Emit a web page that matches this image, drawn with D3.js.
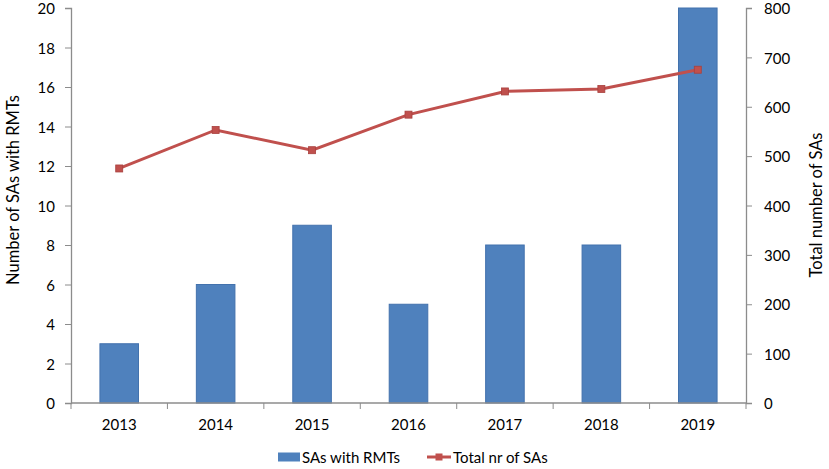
<!DOCTYPE html>
<html><head><meta charset="utf-8">
<script src="https://cdn.jsdelivr.net/npm/d3@7"></script>
<style>body{margin:0;background:#fff}svg{display:block}text{font-family:Lato,"Open Sans",sans-serif;fill:#000}</style>
</head><body>
<svg id="c" width="829" height="469"></svg>
<script>
const years = ["2013","2014","2015","2016","2017","2018","2019"];
const sasWithRMTs = [3, 6, 9, 5, 8, 8, 20];
const totalSAs = [475, 553, 512, 584, 631, 636, 675];
const leftTicks = [0,2,4,6,8,10,12,14,16,18,20];
const rightTicks = [0,100,200,300,400,500,600,700,800];

const svg = d3.select("#c");
const L = 71, R = 746, T = 8, B = 403;
const x = d3.scaleBand().domain(years).range([L, R]).paddingInner(0.6).paddingOuter(0.3);
const xb = d3.scaleBand().domain(years).range([L, R]);
const yL = d3.scaleLinear().domain([0,20]).range([B, T]);
const yR = d3.scaleLinear().domain([0,800]).range([B, T]);
const axisCol = "#8c8c8c";
const FS = 15;

// bars
svg.append("g").selectAll("rect").data(years).join("rect")
  .attr("x", d => x(d)).attr("width", x.bandwidth())
  .attr("y", (d,i) => yL(sasWithRMTs[i])).attr("height", (d,i) => B - yL(sasWithRMTs[i]))
  .attr("fill", "#4f81bd").attr("stroke", "#4372ad").attr("stroke-width", 1);

// axes
const gL = svg.append("g").attr("transform", `translate(${L},0)`)
  .call(d3.axisLeft(yL).tickValues(leftTicks).tickSize(6).tickPadding(10));
const gR = svg.append("g").attr("transform", `translate(${R},0)`)
  .call(d3.axisRight(yR).tickValues(rightTicks).tickSize(6).tickPadding(12));
const gX = svg.append("g").attr("transform", `translate(0,${B})`)
  .call(d3.axisBottom(xb).tickSize(0).tickPadding(16));
gX.selectAll("line.sep").data(d3.range(years.length + 1)).join("line")
  .attr("class","sep")
  .attr("x1", i => L + i * xb.step()).attr("x2", i => L + i * xb.step())
  .attr("y1", 0).attr("y2", 6).attr("stroke", axisCol);
[gL, gR, gX].forEach(g => {
  g.select(".domain").attr("stroke", axisCol).attr("stroke-width", 1.3);
  g.selectAll(".tick line").attr("stroke", axisCol);
  g.selectAll(".tick text").attr("font-size", FS).attr("font-family", "Lato, 'Open Sans', sans-serif").attr("fill","#000");
});
gL.selectAll(".tick text").attr("dy","0.38em");
gR.selectAll(".tick text").attr("dy","0.38em");
gX.select(".domain").attr("d", `M${L},0H${R}`);

// line
const line = d3.line().x((d,i) => xb(years[i]) + xb.bandwidth()/2).y(d => yR(d));
svg.append("path").datum(totalSAs).attr("d", line)
  .attr("fill","none").attr("stroke","#c0504d").attr("stroke-width",3);
svg.append("g").selectAll("rect").data(totalSAs).join("rect")
  .attr("x", (d,i) => xb(years[i]) + xb.bandwidth()/2 - 3.5)
  .attr("y", d => yR(d) - 3.5).attr("width", 7).attr("height", 7)
  .attr("fill","#c0504d").attr("stroke","#a8403d").attr("stroke-width",0.8);

// axis titles
svg.append("text").attr("transform", `translate(13,190) rotate(-90)`)
  .attr("text-anchor","middle").attr("dominant-baseline","central").attr("font-size",16.5).text("Number of SAs with RMTs");
svg.append("text").attr("transform", `translate(816,205) rotate(-90)`)
  .attr("text-anchor","middle").attr("dominant-baseline","central").attr("font-size",16.5).text("Total number of SAs");

// legend
const lg = svg.append("g");
lg.append("rect").attr("x",278).attr("y",452.5).attr("width",22).attr("height",9).attr("fill","#4f81bd");
lg.append("text").attr("x",302).attr("y",457).attr("dominant-baseline","central").attr("font-size",FS).text("SAs with RMTs");
lg.append("line").attr("x1",427).attr("x2",451).attr("y1",457).attr("y2",457).attr("stroke","#c0504d").attr("stroke-width",3);
lg.append("rect").attr("x",435.5).attr("y",453.5).attr("width",7).attr("height",7).attr("fill","#c0504d");
lg.append("text").attr("x",453).attr("y",457).attr("dominant-baseline","central").attr("font-size",FS).text("Total nr of SAs");
</script>
</body></html>
